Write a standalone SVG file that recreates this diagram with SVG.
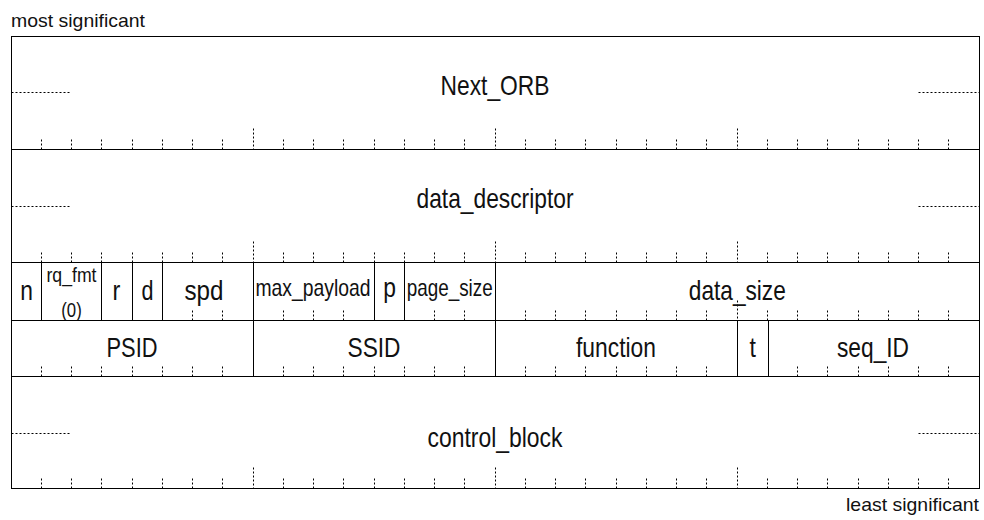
<svg xmlns="http://www.w3.org/2000/svg" width="984" height="520" viewBox="0 0 984 520">
<style>
.f{fill:none;stroke:#000;stroke-width:1}
.t{font-family:"Liberation Sans Narrow","Liberation Sans",Arial,sans-serif;fill:#111;text-anchor:middle}
.L{font-size:28px}
.M{font-size:24px}
.S{font-size:20px}
.tk{fill:none;stroke:#000;stroke-width:1;stroke-dasharray:2,2}
</style>
<rect width="984" height="520" fill="#fff"/>
<text class="t" x="11" y="27" style="font-size:19px;text-anchor:start" textLength="134" lengthAdjust="spacingAndGlyphs">most significant</text>
<text class="t" x="979" y="511" style="font-size:19px;text-anchor:end" textLength="133" lengthAdjust="spacingAndGlyphs">least significant</text>

<g id="ticks">
<path class="tk" d="M41.5 139.5V149.5M71.5 139.5V149.5M101.5 139.5V149.5M132.5 139.5V149.5M162.5 139.5V149.5M192.5 139.5V149.5M222.5 139.5V149.5M253.5 128.5V149.5M283.5 139.5V149.5M313.5 139.5V149.5M343.5 139.5V149.5M374.5 139.5V149.5M404.5 139.5V149.5M434.5 139.5V149.5M464.5 139.5V149.5M495.5 128.5V149.5M525.5 139.5V149.5M555.5 139.5V149.5M585.5 139.5V149.5M616.5 139.5V149.5M646.5 139.5V149.5M676.5 139.5V149.5M706.5 139.5V149.5M737.5 128.5V149.5M767.5 139.5V149.5M797.5 139.5V149.5M827.5 139.5V149.5M858.5 139.5V149.5M888.5 139.5V149.5M918.5 139.5V149.5M948.5 139.5V149.5"/>
<path class="tk" d="M41.5 252.5V262.5M71.5 252.5V262.5M101.5 252.5V262.5M132.5 252.5V262.5M162.5 252.5V262.5M192.5 252.5V262.5M222.5 252.5V262.5M253.5 241.5V262.5M283.5 252.5V262.5M313.5 252.5V262.5M343.5 252.5V262.5M374.5 252.5V262.5M404.5 252.5V262.5M434.5 252.5V262.5M464.5 252.5V262.5M495.5 241.5V262.5M525.5 252.5V262.5M555.5 252.5V262.5M585.5 252.5V262.5M616.5 252.5V262.5M646.5 252.5V262.5M676.5 252.5V262.5M706.5 252.5V262.5M737.5 241.5V262.5M767.5 252.5V262.5M797.5 252.5V262.5M827.5 252.5V262.5M858.5 252.5V262.5M888.5 252.5V262.5M918.5 252.5V262.5M948.5 252.5V262.5"/>
<path class="tk" d="M192.5 310.5V320.5M222.5 310.5V320.5M283.5 310.5V320.5M313.5 310.5V320.5M343.5 310.5V320.5M434.5 310.5V320.5M464.5 310.5V320.5M525.5 310.5V320.5M555.5 310.5V320.5M585.5 310.5V320.5M616.5 310.5V320.5M646.5 310.5V320.5M676.5 310.5V320.5M706.5 310.5V320.5M737.5 300.5V320.5M767.5 310.5V320.5M797.5 310.5V320.5M827.5 310.5V320.5M858.5 310.5V320.5M888.5 310.5V320.5M918.5 310.5V320.5M948.5 310.5V320.5"/>
<path class="tk" d="M41.5 366.5V376.5M71.5 366.5V376.5M101.5 366.5V376.5M132.5 366.5V376.5M162.5 366.5V376.5M192.5 366.5V376.5M222.5 366.5V376.5M283.5 366.5V376.5M313.5 366.5V376.5M343.5 366.5V376.5M374.5 366.5V376.5M404.5 366.5V376.5M434.5 366.5V376.5M464.5 366.5V376.5M525.5 366.5V376.5M555.5 366.5V376.5M585.5 366.5V376.5M616.5 366.5V376.5M646.5 366.5V376.5M676.5 366.5V376.5M706.5 366.5V376.5M797.5 366.5V376.5M827.5 366.5V376.5M858.5 366.5V376.5M888.5 366.5V376.5M918.5 366.5V376.5M948.5 366.5V376.5"/>
<path class="tk" d="M41.5 478.5V488.5M71.5 478.5V488.5M101.5 478.5V488.5M132.5 478.5V488.5M162.5 478.5V488.5M192.5 478.5V488.5M222.5 478.5V488.5M253.5 467.5V488.5M283.5 478.5V488.5M313.5 478.5V488.5M343.5 478.5V488.5M374.5 478.5V488.5M404.5 478.5V488.5M434.5 478.5V488.5M464.5 478.5V488.5M495.5 467.5V488.5M525.5 478.5V488.5M555.5 478.5V488.5M585.5 478.5V488.5M616.5 478.5V488.5M646.5 478.5V488.5M676.5 478.5V488.5M706.5 478.5V488.5M737.5 467.5V488.5M767.5 478.5V488.5M797.5 478.5V488.5M827.5 478.5V488.5M858.5 478.5V488.5M888.5 478.5V488.5M918.5 478.5V488.5M948.5 478.5V488.5"/>
<path class="tk" d="M11.5 92.5H71.5M918.5 92.5H979M11.5 206.5H71.5M918.5 206.5H979M11.5 433.5H71.5M918.5 433.5H979"/>
</g>

<g id="next_orb"><rect class="f" x="11.5" y="36.5" width="968" height="113"/><text class="t L" x="495" y="95" textLength="109" lengthAdjust="spacingAndGlyphs">Next_ORB</text></g>
<g id="data_descriptor"><rect class="f" x="11.5" y="149.5" width="968" height="113"/><text class="t L" x="495" y="208" textLength="157" lengthAdjust="spacingAndGlyphs">data_descriptor</text></g>

<g id="n"><rect class="f" x="11.5" y="262.5" width="30" height="58"/><text class="t L" x="26.5" y="300" textLength="12.7" lengthAdjust="spacingAndGlyphs">n</text></g>
<g id="rq_fmt"><rect class="f" x="41.5" y="262.5" width="60" height="58"/><text class="t S" x="71.5" y="282" textLength="50" lengthAdjust="spacingAndGlyphs">rq_fmt</text><text class="t S" x="71.5" y="316.5" textLength="20.5" lengthAdjust="spacingAndGlyphs">(0)</text></g>
<g id="r"><rect class="f" x="101.5" y="262.5" width="31" height="58"/><text class="t L" x="116.5" y="300" textLength="7.8" lengthAdjust="spacingAndGlyphs">r</text></g>
<g id="d"><rect class="f" x="132.5" y="262.5" width="30" height="58"/><text class="t L" x="147.5" y="300" textLength="12" lengthAdjust="spacingAndGlyphs">d</text></g>
<g id="spd"><rect class="f" x="162.5" y="262.5" width="91" height="58"/><text class="t L" x="204" y="300" textLength="39" lengthAdjust="spacingAndGlyphs">spd</text></g>
<g id="max_payload"><rect class="f" x="253.5" y="262.5" width="121" height="58"/><text class="t M" x="313" y="295.5" textLength="115" lengthAdjust="spacingAndGlyphs">max_payload</text></g>
<g id="p"><rect class="f" x="374.5" y="262.5" width="30" height="58"/><text class="t L" x="389.5" y="297" textLength="12.7" lengthAdjust="spacingAndGlyphs">p</text></g>
<g id="page_size"><rect class="f" x="404.5" y="262.5" width="91" height="58"/><text class="t M" x="449.7" y="295.5" textLength="86" lengthAdjust="spacingAndGlyphs">page_size</text></g>
<g id="data_size"><rect class="f" x="495.5" y="262.5" width="484" height="58"/><text class="t L" x="737.3" y="299.5" textLength="97" lengthAdjust="spacingAndGlyphs">data_size</text></g>

<g id="psid"><rect class="f" x="11.5" y="320.5" width="242" height="56"/><text class="t L" x="132" y="356.7" textLength="51" lengthAdjust="spacingAndGlyphs">PSID</text></g>
<g id="ssid"><rect class="f" x="253.5" y="320.5" width="242" height="56"/><text class="t L" x="374" y="356.7" textLength="53" lengthAdjust="spacingAndGlyphs">SSID</text></g>
<g id="function"><rect class="f" x="495.5" y="320.5" width="242" height="56"/><text class="t L" x="616" y="356.7" textLength="80" lengthAdjust="spacingAndGlyphs">function</text></g>
<g id="t"><rect class="f" x="737.5" y="320.5" width="31" height="56"/><text class="t L" x="752.7" y="356.7" textLength="6.4" lengthAdjust="spacingAndGlyphs">t</text></g>
<g id="seq_id"><rect class="f" x="768.5" y="320.5" width="211" height="56"/><text class="t L" x="873" y="356.7" textLength="72" lengthAdjust="spacingAndGlyphs">seq_ID</text></g>

<g id="control_block"><rect class="f" x="11.5" y="376.5" width="968" height="112"/><text class="t L" x="495" y="446.7" textLength="135" lengthAdjust="spacingAndGlyphs">control_block</text></g>
</svg>
